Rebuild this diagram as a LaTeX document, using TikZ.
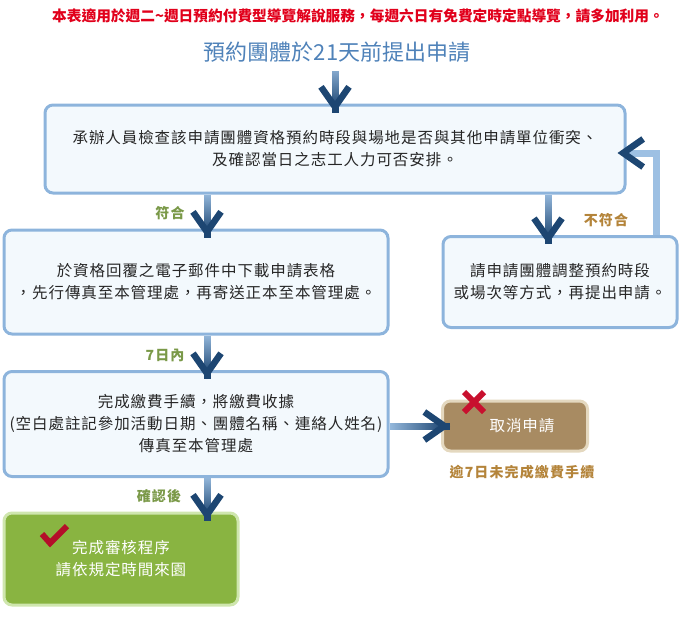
\documentclass[tikz,border=0pt]{standalone}
\usepackage{fontspec}
\setmainfont{Noto Sans CJK TC}
\newfontfamily\cjkwide[LetterSpace=6]{Noto Sans CJK TC}
\newfontfamily\cjklbl[LetterSpace=8]{Noto Sans CJK TC}
\usetikzlibrary{arrows.meta,fadings}
\definecolor{boxBorder}{HTML}{8DB4DC}
\definecolor{boxFill}{HTML}{F3F9FD}
\definecolor{flowLight}{HTML}{9DC0E3}
\definecolor{flowNavy}{HTML}{1D4672}
\definecolor{titleRed}{HTML}{E1001B}
\definecolor{headBlue}{HTML}{4F82B9}
\definecolor{okGreen}{HTML}{7A9948}
\definecolor{noBrown}{HTML}{B4843A}
\definecolor{doneFill}{HTML}{89B441}
\definecolor{doneBorder}{HTML}{CFE6AE}
\definecolor{cancelFill}{HTML}{A88B62}
\definecolor{cancelBorder}{HTML}{E4D8BF}
\definecolor{markRed}{HTML}{C8102E}

\begin{document}
\begin{tikzpicture}[
    x=1pt, y=-1pt,
    font=\cjkwide\fontsize{15.5}{22}\selectfont,
    stepbox/.style={rounded corners=8pt, draw=boxBorder, fill=boxFill, line width=3pt, align=center, inner sep=0pt, text=black!85},
    donebox/.style={stepbox, draw=doneBorder, fill=doneFill, text=white},
    cancelbox/.style={stepbox, draw=cancelBorder, fill=cancelFill, text=white},
    oklbl/.style={font=\cjklbl\bfseries\fontsize{14}{16}\selectfont, text=okGreen},
    nolbl/.style={oklbl, text=noBrown},
    flow/.style={line width=7pt, draw=flowLight, shorten >=-9pt,
      -{Straight Barb[length=20pt, width=28pt, line width=6.5pt, color=flowNavy]}},
    flowdown/.style={flow, postaction={draw=flowNavy, path fading=north, -}},
    flowright/.style={flow, postaction={draw=flowNavy, path fading=west, -}}
  ]
    \useasboundingbox (0,0) rectangle (680,635);

    \node[font=\bfseries\fontsize{14.7}{16}\selectfont, text=titleRed] (note) at (358,16)
      {本表適用於週二\textasciitilde 週日預約付費型導覽解說服務，每週六日有免費定時定點導覽，請多加利用。};
    \node[font=\fontsize{22}{26}\selectfont, text=headBlue] (req) at (337,52) {預約團體於21天前提出申請};

    \node[stepbox, minimum width=580, minimum height=88] (chk) at (335,149) {
      承辦人員檢查該申請團體資格預約時段與場地是否與其他申請單位衝突、\\
      及確認當日之志工人力可否安排。
    };
    \node[stepbox, minimum width=384, minimum height=104] (dl) at (196,282) {
      於資格回覆之電子郵件中下載申請表格\\
      ，先行傳真至本管理處，再寄送正本至本管理處。
    };
    \node[stepbox, minimum width=234, minimum height=91] (adj) at (560,282) {
      請申請團體調整預約時段\\
      或場次等方式，再提出申請。
    };
    \node[stepbox, minimum width=384, minimum height=105] (pay) at (196,424) {
      完成繳費手續，將繳費收據\\
      (空白處註記參加活動日期、團體名稱、連絡人姓名)\\
      傳真至本管理處
    };
    \node[cancelbox, minimum width=145, minimum height=50] (cancel) at (515,426) {\hspace*{14pt}取消申請};
    \node[donebox, minimum width=234, minimum height=92] (done) at (121,559) {
      完成審核程序\\
      請依規定時間來園
    };

    % labels on the arrows
    \node[oklbl] (l1) at (170,213) {符合};
    \node[nolbl] (l2) at (606,220) {不符合};
    \node[oklbl] (l3) at (165,355) {7日內};
    \node[oklbl] (l4) at (159,496) {確認後};
    \node[nolbl] (l5) at (522,472) {逾7日未完成繳費手續};

    % arrows
    \coordinate (lx) at (207,0);
    \coordinate (rx) at (548,0);
    \coordinate (ret) at (656,153);
    \draw[flowdown, shorten <=5pt] (chk.north |- req.south) -- (chk.north);
    \draw[flowdown] (chk.south -| lx) -- (dl.north -| lx);
    \draw[flowdown] (chk.south -| rx) -- (adj.north -| rx);
    \draw[flow] (adj.north -| ret) |- (chk.east |- ret);
    \draw[flowdown] (dl.south -| lx) -- (pay.north -| lx);
    \draw[flowright] (pay.east |- cancel.west) -- (cancel.west);
    \draw[flowdown] (pay.south -| lx) -- (done.north -| lx);

    % marks
    \draw[markRed, line width=6pt] (464,392) -- (484,412) (464,412) -- (484,392);
    \draw[markRed!90!black, line width=6pt] (42,534) -- (50,543) -- (67,526);
  \end{tikzpicture}
\end{document}
